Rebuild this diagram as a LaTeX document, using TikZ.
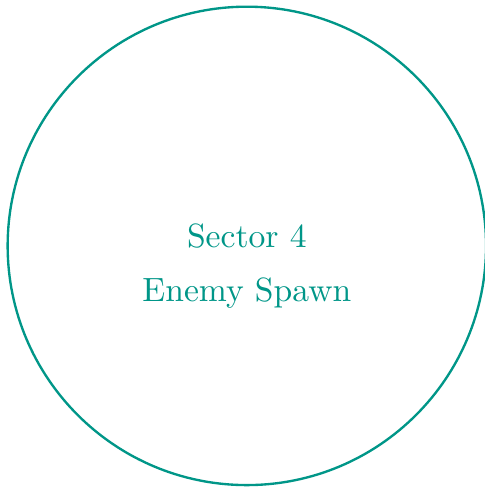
\documentclass[tikz,border=0pt]{standalone}
\usepackage{amssymb,amsfonts,amsmath}
\usepackage{tikz,xcolor}
\definecolor{sectorteal}{RGB}{0,150,136}
\tikzset{
  % outline of a sector
  sector ring/.style={draw=sectorteal,line width=0.7pt},
  % text inside a sector
  sector text/.style={text=sectorteal,anchor=base,inner sep=0pt},
}

\begin{document}
\begin{tikzpicture}
\useasboundingbox (-2.58,-2.52) rectangle (2.48,2.57);
\node[sector ring,circle,minimum size=5cm,inner sep=0pt] (sector) at (0,0) {};
\node[sector text] (sectorname) at (0,-0.015) {Sector 4};
\node[sector text] (spawn) at (0,-0.585) {Enemy Spawn};
\end{tikzpicture}
\end{document}
